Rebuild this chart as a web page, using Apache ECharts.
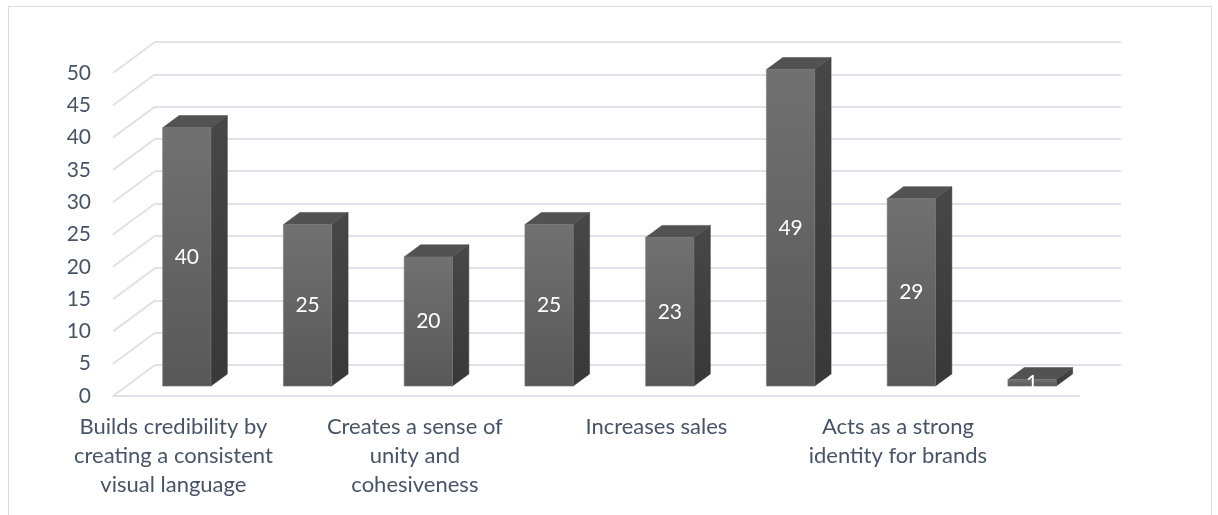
<!DOCTYPE html>
<html>
<head>
<meta charset="utf-8">
<script src="https://cdn.jsdelivr.net/npm/echarts@6/dist/echarts.min.js"></script>
<style>
  html, body { margin: 0; padding: 0; background: #ffffff; }
  #chart { width: 1218px; height: 515px; }
</style>
</head>
<body>
<div id="chart"></div>
<script>
// Category names, already split into lines (only every other one is printed under the axis)
const categories = [
  'Builds credibility by\ncreating a consistent\nvisual language',
  '',
  'Creates a sense of\nunity and\ncohesiveness',
  '',
  'Increases sales',
  '',
  'Acts as a strong\nidentity for brands',
  ''
];
const values = [40, 25, 20, 25, 23, 49, 29, 1];
const yTicks = [0, 5, 10, 15, 20, 25, 30, 35, 40, 45, 50];

// Oblique projection of the floor depth (front edge -> back wall)
const DEPTH_DX = 42;
const DEPTH_DY = -31;
// Bars occupy this slice of the floor depth and this share of a category
const BAR_FRONT = 0.32;
const BAR_BACK = 0.71;
const BAR_WIDTH = 0.40;

const TEXT_COLOR = '#475468';
const GRID_COLOR = '#dfe2e8';
const FONT = 'Lato';

const FRONT = { left: 113, top: 73, width: 966, height: 323 };

function renderDiagonal(params, api) {
  const p = api.coord([0, api.value(1)]);
  const cw = api.size([1, 0])[0];
  const x = p[0] - cw / 2;
  return {
    type: 'line',
    shape: { x1: x, y1: p[1], x2: x + DEPTH_DX, y2: p[1] + DEPTH_DY },
    style: { stroke: GRID_COLOR, lineWidth: 2 },
    silent: true
  };
}

function renderBar(params, api) {
  const i = api.value(0);
  const v = api.value(1);
  const base = api.coord([i, 0]);
  const top = api.coord([i, v]);
  const cw = api.size([1, 0])[0];
  const w = cw * BAR_WIDTH;
  const fx = DEPTH_DX * BAR_FRONT, fy = DEPTH_DY * BAR_FRONT;
  const bdx = DEPTH_DX * (BAR_BACK - BAR_FRONT), bdy = DEPTH_DY * (BAR_BACK - BAR_FRONT);
  const x0 = base[0] - w / 2 + fx;
  const x1 = x0 + w;
  const yb = base[1] + fy;
  const yt = top[1] + fy;
  return {
    type: 'group',
    children: [
      {
        type: 'polygon',
        shape: { points: [[x1, yt], [x1 + bdx, yt + bdy], [x1 + bdx, yb + bdy], [x1, yb]] },
        style: {
          fill: { type: 'linear', x: 0, y: 0, x2: 0, y2: 1,
            colorStops: [{ offset: 0, color: '#474747' }, { offset: 1, color: '#383838' }] },
          stroke: '#3a3a3a', lineWidth: 0.5
        }
      },
      {
        type: 'polygon',
        shape: { points: [[x0, yt], [x0 + bdx, yt + bdy], [x1 + bdx, yt + bdy], [x1, yt]] },
        style: { fill: '#525252', stroke: '#4c4c4c', lineWidth: 0.5 }
      },
      {
        type: 'rect',
        shape: { x: x0, y: yt, width: w, height: yb - yt },
        style: {
          fill: { type: 'linear', x: 0, y: 0, x2: 0, y2: 1,
            colorStops: [{ offset: 0, color: '#717171' }, { offset: 1, color: '#585858' }] },
          stroke: '#7a7a7a', lineWidth: 0.6
        }
      },
      {
        type: 'text',
        style: {
          text: String(v),
          x: (x0 + x1) / 2,
          y: (yt + yb) / 2,
          align: 'center',
          verticalAlign: 'middle',
          fill: '#ffffff',
          font: '21px ' + FONT
        },
        z2: 10
      }
    ]
  };
}

const chart = echarts.init(document.getElementById('chart'), null, { renderer: 'canvas' });

chart.setOption({
  animation: false,
  backgroundColor: '#ffffff',
  grid: [
    { left: FRONT.left, top: FRONT.top, width: FRONT.width, height: FRONT.height },
    { left: FRONT.left + DEPTH_DX, top: FRONT.top + DEPTH_DY, width: FRONT.width, height: FRONT.height }
  ],
  xAxis: [
    {
      gridIndex: 0,
      type: 'category',
      data: categories,
      axisLine: { show: true, lineStyle: { color: GRID_COLOR, width: 2 } },
      axisTick: { show: false },
      splitLine: { show: false },
      axisLabel: {
        interval: 1,
        color: TEXT_COLOR,
        fontSize: 22,
        fontFamily: FONT,
        align: 'center',
        lineHeight: 29,
        margin: 16
      }
    },
    { gridIndex: 1, type: 'category', data: categories, show: false }
  ],
  yAxis: [
    {
      gridIndex: 0,
      type: 'value',
      min: 0, max: 50, interval: 5,
      axisLine: { show: false },
      axisTick: { show: false },
      splitLine: { show: false },
      axisLabel: { color: TEXT_COLOR, fontSize: 21, fontFamily: FONT, margin: 22 }
    },
    {
      gridIndex: 1,
      type: 'value',
      min: 0, max: 50, interval: 5,
      axisLine: { show: false },
      axisTick: { show: false },
      axisLabel: { show: false },
      splitLine: { show: true, lineStyle: { color: GRID_COLOR, width: 2 } }
    }
  ],
  series: [
    {
      type: 'custom',
      xAxisIndex: 0, yAxisIndex: 0,
      data: yTicks.map(v => [0, v]),
      renderItem: renderDiagonal,
      silent: true,
      z: 1
    },
    {
      type: 'custom',
      xAxisIndex: 0, yAxisIndex: 0,
      data: values.map((v, i) => [i, v]),
      renderItem: renderBar,
      z: 3
    }
  ],
  graphic: [
    {
      type: 'rect',
      shape: { x: 8.5, y: 6.5, width: 1203, height: 600 },
      style: { fill: 'none', stroke: '#d9dde3', lineWidth: 1 },
      silent: true,
      z: -1
    }
  ]
});
</script>
</body>
</html>
